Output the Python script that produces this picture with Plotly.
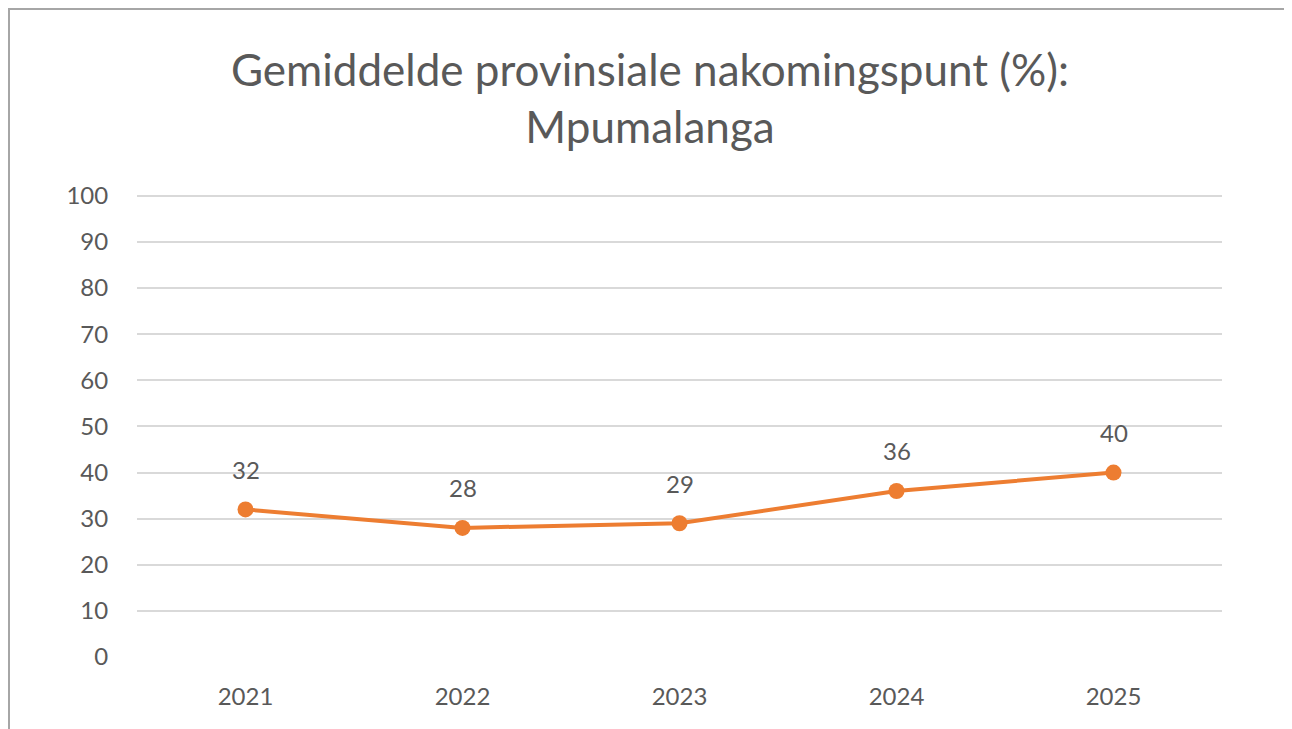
import plotly.graph_objects as go

years = ["2021", "2022", "2023", "2024", "2025"]
scores = [32, 28, 29, 36, 40]
y_ticks = [0, 10, 20, 30, 40, 50, 60, 70, 80, 90, 100]

TITLE = "Gemiddelde provinsiale nakomingspunt (%):<br>Mpumalanga"
ORANGE = "#ED7D31"
GRAY_TEXT = "#595959"
FONT = "Lato, sans-serif"

# page body has an 8px margin, so the figure is drawn at (8, 8)
W, H = 1284, 721
L, R, T, B = 129, 70, 186, 72
pw, ph = W - L - R, H - T - B

fig = go.Figure()
fig.add_trace(go.Scatter(
    x=years, y=scores, mode="lines+markers",
    line=dict(color=ORANGE, width=4),
    marker=dict(color=ORANGE, size=16),
    hoverinfo="x+y", showlegend=False,
))

annotations = []
for i, (xv, yv) in enumerate(zip(years, scores)):
    annotations.append(dict(x=i, y=yv, xref="x", yref="y", text=str(yv),
                            showarrow=False, yshift=40,
                            font=dict(size=24, color=GRAY_TEXT, family=FONT)))

fig.update_layout(
    width=W, height=H,
    margin=dict(l=L, r=R, t=T, b=B),
    paper_bgcolor="white", plot_bgcolor="white",
    font=dict(family=FONT, color=GRAY_TEXT),
    title=dict(text=TITLE, x=0.5, xref="container", xanchor="center",
               y=1 - 78 / H, yref="container", yanchor="top",
               font=dict(size=44, color=GRAY_TEXT, family=FONT)),
    xaxis=dict(type="category", range=[-0.5, 4.5], showgrid=False, zeroline=False,
               showline=False, ticks="outside", ticklen=18, tickcolor="rgba(0,0,0,0)",
               tickfont=dict(size=24, color=GRAY_TEXT)),
    yaxis=dict(range=[0, 100.4], tickvals=y_ticks, showgrid=True, gridcolor="#D9D9D9",
               gridwidth=1.5, zeroline=False, showline=False, ticks="outside",
               ticklen=23, tickcolor="rgba(0,0,0,0)",
               tickfont=dict(size=24, color=GRAY_TEXT)),
    annotations=annotations,
    shapes=[dict(type="rect", xref="paper", yref="paper",
                 x0=(1 - L) / pw, x1=(1282 - L) / pw,
                 y0=(H - B - 800) / ph, y1=(H - B - 1) / ph,
                 line=dict(color="#A6A6A6", width=2),
                 fillcolor="rgba(0,0,0,0)", layer="below")],
)

fig.write_html("out.html")
